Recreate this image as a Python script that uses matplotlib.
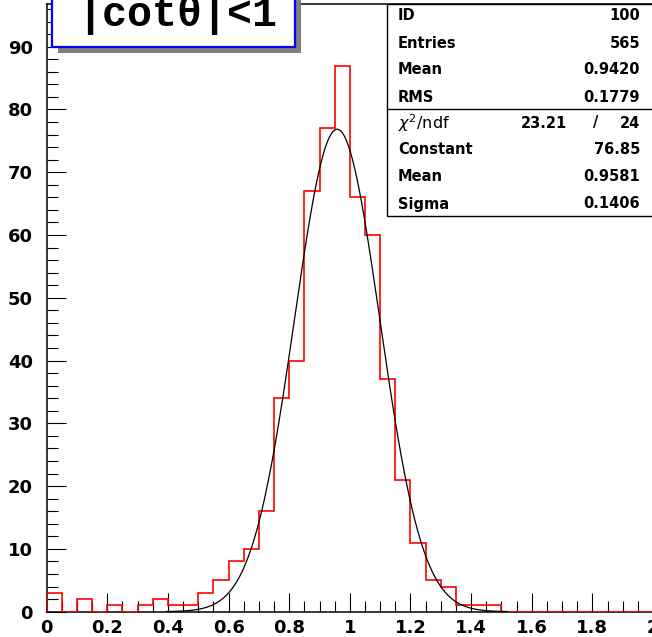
"""ROOT-style histogram of a fitted peak, |cot theta| < 1 selection."""

import numpy as np
import matplotlib
matplotlib.use('Agg')
import matplotlib.pyplot as plt
from matplotlib.patches import Rectangle
from matplotlib.ticker import MultipleLocator, FormatStrFormatter

W, H = 652, 637  # output size in pixels

# histogram: 40 bins of width 0.05 from 0 to 2
bin_lo, bin_hi = 0.0, 2.0
counts = [3, 0, 2, 0, 1, 0, 1, 2, 1, 1,
          3, 5, 8, 10, 16, 34, 40, 67, 77, 87,
          66, 60, 37, 21, 11, 5, 4, 1, 1, 1,
          0, 0, 0, 0, 0, 0, 0, 0, 0, 0]

# gaussian fit result
fit_const, fit_mean, fit_sigma = 76.85, 0.9581, 0.1406

title_text = "|cot\u03b8|<1"
stat_names = ["ID", "Entries", "Mean", "RMS"]
stat_values = ["100", "565", "0.9420", "0.1779"]
fit_names = ["Constant", "Mean", "Sigma"]
fit_values = ["76.85", "0.9581", "0.1406"]
chi2, ndf = "23.21", "24"


def fx(px):
    return px / W


def fy(py):
    return 1.0 - py / H


fig = plt.figure(figsize=(W / 100, H / 100), dpi=100)
fig.patch.set_facecolor('white')

# axes frame: x=0 at px 46.7, x=2 at px ~653; y=0 at px 611.7, top at px 4
ax_left, ax_right, ax_bottom, ax_top = 46.7, 653.0, 611.7, 4.0
ax = fig.add_axes([fx(ax_left), fy(ax_bottom),
                   (ax_right - ax_left) / W, (ax_bottom - ax_top) / H])
ax.set_xlim(0, 2.0)
ax.set_ylim(0, 96.8)

edges = np.linspace(bin_lo, bin_hi, len(counts) + 1)
ax.stairs(counts, edges, color='#ff0000', lw=1.2, zorder=3)

xs = np.linspace(fit_mean - 4 * fit_sigma, fit_mean + 4 * fit_sigma, 400)
ax.plot(xs, fit_const * np.exp(-0.5 * ((xs - fit_mean) / fit_sigma) ** 2),
        color='black', lw=0.9, zorder=4)

for sp in ax.spines.values():
    sp.set_linewidth(1.1)
    sp.set_color('black')

ax.xaxis.set_major_locator(MultipleLocator(0.2))
ax.xaxis.set_minor_locator(MultipleLocator(0.05))
ax.yaxis.set_major_locator(MultipleLocator(10))
ax.yaxis.set_minor_locator(MultipleLocator(2))
ax.xaxis.set_major_formatter(FormatStrFormatter('%g'))
ax.tick_params(which='both', direction='in', top=False, right=False,
               width=0.8, color='black')
ax.tick_params(which='major', length=13.8)
ax.tick_params(which='minor', length=7.8)
ax.tick_params(axis='x', which='major', pad=5)
ax.tick_params(axis='y', which='major', pad=10)
for lab in ax.get_xticklabels() + ax.get_yticklabels():
    lab.set_fontfamily('DejaVu Sans')
    lab.set_fontweight('bold')
    lab.set_fontsize(13)

# title label with shadow
tb_l, tb_r, tb_b, tb_t = 52, 295, 47, -20
shadow = 6
fig.add_artist(Rectangle((fx(tb_l + shadow), fy(tb_b + shadow)),
                         (tb_r - tb_l) / W, (tb_b - tb_t) / H,
                         transform=fig.transFigure, facecolor='#808080',
                         edgecolor='none', zorder=10))
fig.add_artist(Rectangle((fx(tb_l), fy(tb_b)),
                         (tb_r - tb_l) / W, (tb_b - tb_t) / H,
                         transform=fig.transFigure, facecolor='white',
                         edgecolor='#0000ff', lw=1.6, zorder=11))
fig.text(fx(177), fy(26), title_text, ha='center', va='baseline',
         family=['Liberation Mono', 'DejaVu Sans Mono'], weight='bold',
         fontsize=30, zorder=12)

# stats box
sb_l, sb_r, sb_t, sb_b, sb_sep = 387.5, 700, 3.5, 216, 108.5
fig.add_artist(Rectangle((fx(sb_l), fy(sb_b)), (sb_r - sb_l) / W,
                         (sb_b - sb_t) / H, transform=fig.transFigure,
                         facecolor='white', edgecolor='black', lw=1.0,
                         zorder=10))
fig.add_artist(plt.Line2D([fx(sb_l), fx(sb_r)], [fy(sb_sep), fy(sb_sep)],
                          transform=fig.transFigure, color='black', lw=1.0,
                          zorder=11))

row_y = [15, 44, 70, 97]
fit_row_y = [150, 177, 204]
txt_kw = dict(family='DejaVu Sans', weight='bold', fontsize=10.5,
              va='center', zorder=12)
for name, val, y in zip(stat_names, stat_values, row_y):
    fig.text(fx(398), fy(y), name, ha='left', **txt_kw)
    fig.text(fx(640), fy(y), val, ha='right', **txt_kw)
for name, val, y in zip(fit_names, fit_values, fit_row_y):
    fig.text(fx(398), fy(y), name, ha='left', **txt_kw)
    fig.text(fx(640), fy(y), val, ha='right', **txt_kw)

fig.text(fx(398), fy(123), r'$\chi^{2}$/ndf', ha='left', va='center',
         family='DejaVu Sans', fontsize=11.5, zorder=12)
fig.text(fx(567), fy(123), chi2, ha='right', **txt_kw)
fig.text(fx(596), fy(123), "/", ha='center', **txt_kw)
fig.text(fx(640), fy(123), ndf, ha='right', **txt_kw)

plt.savefig('out.png', dpi=100)
plt.close(fig)
